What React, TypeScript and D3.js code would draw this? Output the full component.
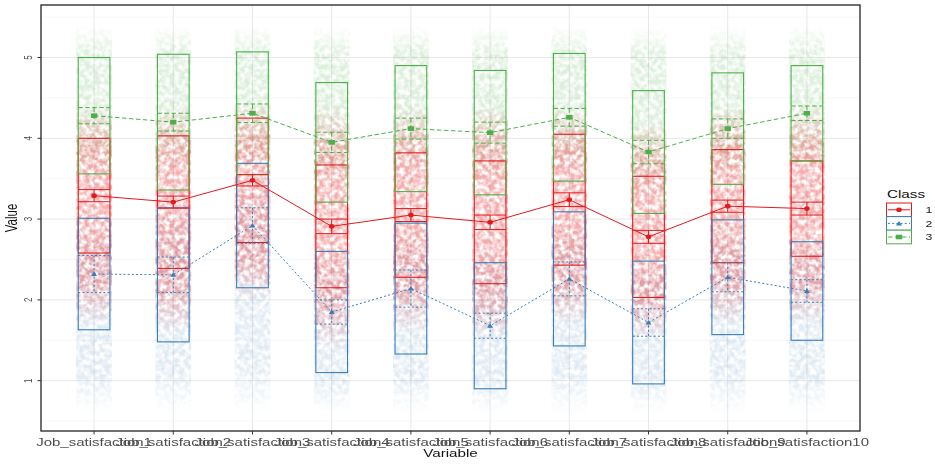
import React from 'react';
import * as d3 from 'd3';

// variables on the x axis
const variables = [
  'Job_satisfaction1', 'Job_satisfaction2', 'Job_satisfaction3', 'Job_satisfaction4', 'Job_satisfaction5',
  'Job_satisfaction6', 'Job_satisfaction7', 'Job_satisfaction8', 'Job_satisfaction9', 'Job_satisfaction10',
];
const classes = ['1', '2', '3'];
const colors = ['#E41A1C', '#377EB8', '#4DAF4A'];

// class means, sd (outer box) and se (inner error bar)
const mean1 = [3.29, 3.21, 3.48, 2.91, 3.05, 2.96, 3.24, 2.78, 3.16, 3.13];
const sd1 = [0.71, 0.82, 0.77, 0.76, 0.77, 0.76, 0.81, 0.75, 0.7, 0.59];
const se1 = [0.075, 0.075, 0.07, 0.09, 0.08, 0.09, 0.085, 0.08, 0.075, 0.08];

const mean2 = [2.32, 2.31, 2.92, 1.85, 2.14, 1.68, 2.26, 1.72, 2.28, 2.11];
const sd2 = [0.69, 0.83, 0.77, 0.75, 0.81, 0.78, 0.83, 0.76, 0.71, 0.61];
const se2 = [0.23, 0.22, 0.22, 0.15, 0.23, 0.155, 0.21, 0.17, 0.18, 0.14];

const mean3 = [4.28, 4.2, 4.31, 3.95, 4.12, 4.07, 4.26, 3.83, 4.12, 4.31];
const sd3 = [0.72, 0.84, 0.76, 0.74, 0.78, 0.77, 0.79, 0.76, 0.69, 0.59];
const se3 = [0.1, 0.11, 0.115, 0.125, 0.13, 0.13, 0.11, 0.145, 0.12, 0.09];

// spread of the jittered raw points per class
const cloudHi1 = [4.4, 4.4, 4.45, 4.4, 4.4, 4.4, 4.4, 4.2, 4.4, 4.4];
const cloudLo1 = [1.7, 1.6, 2.0, 1.4, 1.6, 1.5, 1.7, 1.5, 1.7, 1.7];
const cloudHi2 = [3.0, 3.2, 3.6, 2.6, 2.9, 2.6, 3.0, 2.6, 3.0, 2.8];
const cloudLo2 = [0.6, 0.6, 0.6, 0.6, 0.6, 0.6, 0.6, 0.6, 0.6, 0.6];
const cloudHi3 = [5.4, 5.4, 5.4, 5.4, 5.4, 5.4, 5.4, 5.4, 5.4, 5.4];
const cloudLo3 = [3.6, 3.6, 3.6, 3.4, 3.6, 3.5, 3.6, 3.3, 3.5, 3.6];

const yTicks = [1, 2, 3, 4, 5];
const yMinor = [0.5, 1.5, 2.5, 3.5, 4.5, 5.5];

const W = 935, H = 464;
const SX = 1.45; // the picture is stretched sideways, text too

export default function App() {
  const left = 41, right = 860, top = 5, bottom = 431;

  const x = d3.scalePoint<string>().domain(variables).range([left, right]).padding(0.67);
  const y = d3.scaleLinear().domain([0.377, 5.65]).range([bottom, top]);
  const hw = x.step() * 0.2;

  const means = [mean1, mean2, mean3];
  const sds = [sd1, sd2, sd3];
  const ses = [se1, se2, se3];
  const his = [cloudHi1, cloudHi2, cloudHi3];
  const los = [cloudLo1, cloudLo2, cloudLo3];
  const dash = [undefined, '2,2.2', '4.5,2.5'];
  const cloudOp = [0.36, 0.16, 0.2];

  const line = d3.line<number>().x((d, i) => x(variables[i])!).y(d => y(d));

  function marker(k: number, cx: number, cy: number, key?: string) {
    const c = colors[k];
    if (k === 0) return <ellipse key={key} cx={cx} cy={cy} rx={2.8} ry={2.3} fill={c} />;
    if (k === 1) return <path key={key} d={`M${cx - 3},${cy + 2} L${cx + 3},${cy + 2} L${cx},${cy - 2.5} Z`} fill={c} />;
    return <rect key={key} x={cx - 3.2} y={cy - 2.3} width={6.4} height={4.6} fill={c} />;
  }

  return (
    <svg width={W} height={H} style={{ position: 'absolute', left: 0, top: 0, background: '#fff' }}
      fontFamily="'Liberation Sans', Arial, sans-serif">
      <defs>
        <clipPath id="panel"><rect x={left} y={top} width={right - left} height={bottom - top} /></clipPath>
        {colors.map((c, k) => (
          <linearGradient key={k} id={'cloud' + k} x1="0" y1="0" x2="0" y2="1">
            <stop offset="0" stopColor={c} stopOpacity={0} />
            <stop offset="0.2" stopColor={c} stopOpacity={1} />
            <stop offset="0.8" stopColor={c} stopOpacity={1} />
            <stop offset="1" stopColor={c} stopOpacity={0} />
          </linearGradient>
        ))}
        {/* speckled look of the over-plotted points */}
        <filter id="speckle" x="0" y="0" width="100%" height="100%" colorInterpolationFilters="sRGB">
          <feTurbulence type="fractalNoise" baseFrequency="0.2" numOctaves={2} seed={7} result="n" />
          <feColorMatrix in="n" type="matrix" values="0 0 0 0 0  0 0 0 0 0  0 0 0 0 0  2.6 0 0 0 -0.75" result="m" />
          <feComposite in="SourceGraphic" in2="m" operator="in" />
        </filter>
      </defs>

      {/* grid */}
      {yMinor.map(v => <line key={'mn' + v} x1={left} x2={right} y1={y(v)} y2={y(v)} stroke="#f2f2f2" strokeWidth={0.7} />)}
      {yTicks.map(v => <line key={'mj' + v} x1={left} x2={right} y1={y(v)} y2={y(v)} stroke="#e8e8e8" strokeWidth={1} />)}
      {variables.map(v => <line key={'vx' + v} x1={x(v)} x2={x(v)} y1={top} y2={bottom} stroke="#e8e8e8" strokeWidth={1} />)}

      <g clipPath="url(#panel)">
        {/* jitter clouds */}
        <g filter="url(#speckle)">
          {[1, 2, 0].map(k => variables.map((v, i) => (
            <rect key={'cl' + k + i} x={x(v)! - hw - 2} width={2 * hw + 4}
              y={y(his[k][i])} height={y(los[k][i]) - y(his[k][i])}
              fill={`url(#cloud${k})`} opacity={cloudOp[k]} />
          )))}
        </g>

        {/* mean +- sd boxes */}
        {variables.map((v, i) => [0, 1, 2].map(k => (
          <rect key={'bx' + k + i} x={x(v)! - hw} width={2 * hw}
            y={y(means[k][i] + sds[k][i])} height={y(means[k][i] - sds[k][i]) - y(means[k][i] + sds[k][i])}
            fill="none" stroke={colors[k]} strokeWidth={1.1} />
        )))}

        {/* mean +- se bars */}
        {[0, 1, 2].map(k => variables.map((v, i) => {
          const cx = x(v)!, hi = y(means[k][i] + ses[k][i]), lo = y(means[k][i] - ses[k][i]);
          return (
            <g key={'eb' + k + i} stroke={colors[k]} strokeWidth={1} strokeDasharray={dash[k]}>
              <line x1={cx - hw} x2={cx + hw} y1={hi} y2={hi} />
              <line x1={cx - hw} x2={cx + hw} y1={lo} y2={lo} />
              <line x1={cx} x2={cx} y1={hi} y2={lo} />
            </g>
          );
        }))}

        {/* lines through the means */}
        {[0, 1, 2].map(k => (
          <path key={'ln' + k} d={line(means[k])!} fill="none" stroke={colors[k]} strokeWidth={1} strokeDasharray={dash[k]} />
        ))}
        {[0, 1, 2].map(k => variables.map((v, i) => marker(k, x(v)!, y(means[k][i]), 'pt' + k + i)))}
      </g>

      {/* panel border */}
      <rect x={left} y={top} width={right - left} height={bottom - top} fill="none" stroke="#222" strokeWidth={1.3} />

      {/* y axis */}
      {yTicks.map(v => (
        <g key={'yt' + v}>
          <line x1={left - 3.5} x2={left} y1={y(v)} y2={y(v)} stroke="#333" />
          <text transform={`translate(32,${y(v)}) scale(${SX},1) rotate(-90)`} textAnchor="middle" fontSize={8} fill="#4d4d4d">{v}</text>
        </g>
      ))}
      <text transform={`translate(17,${(top + bottom) / 2}) scale(${SX},1) rotate(-90)`} textAnchor="middle" fontSize={11.5} fill="#111">Value</text>

      {/* x axis */}
      {variables.map(v => (
        <g key={'xt' + v}>
          <line x1={x(v)} x2={x(v)} y1={bottom} y2={bottom + 3.5} stroke="#333" />
          <text transform={`translate(${x(v)},445.5) scale(${SX + 0.05},1)`} textAnchor="middle" fontSize={10} fill="#4d4d4d">{v}</text>
        </g>
      ))}
      <text transform={`translate(${(left + right) / 2},457) scale(${SX},1)`} textAnchor="middle" fontSize={10.5} fill="#111">Variable</text>

      {/* legend */}
      <text transform={`translate(887,197.5) scale(${SX},1)`} fontSize={10.5} fill="#111">Class</text>
      {classes.map((c, k) => {
        const ky = 203 + k * 13.6;
        return (
          <g key={'lg' + c}>
            <rect x={886.5} y={ky} width={25} height={13.6} fill="#fff" stroke={colors[k]} strokeWidth={1} />
            <line x1={888} x2={910} y1={ky + 6.8} y2={ky + 6.8} stroke={colors[k]} strokeDasharray={dash[k]} />
            {marker(k, 899, ky + 6.8)}
            <text transform={`translate(925.5,${ky + 10}) scale(${SX},1)`} fontSize={8.5} fill="#222">{c}</text>
          </g>
        );
      })}
    </svg>
  );
}
